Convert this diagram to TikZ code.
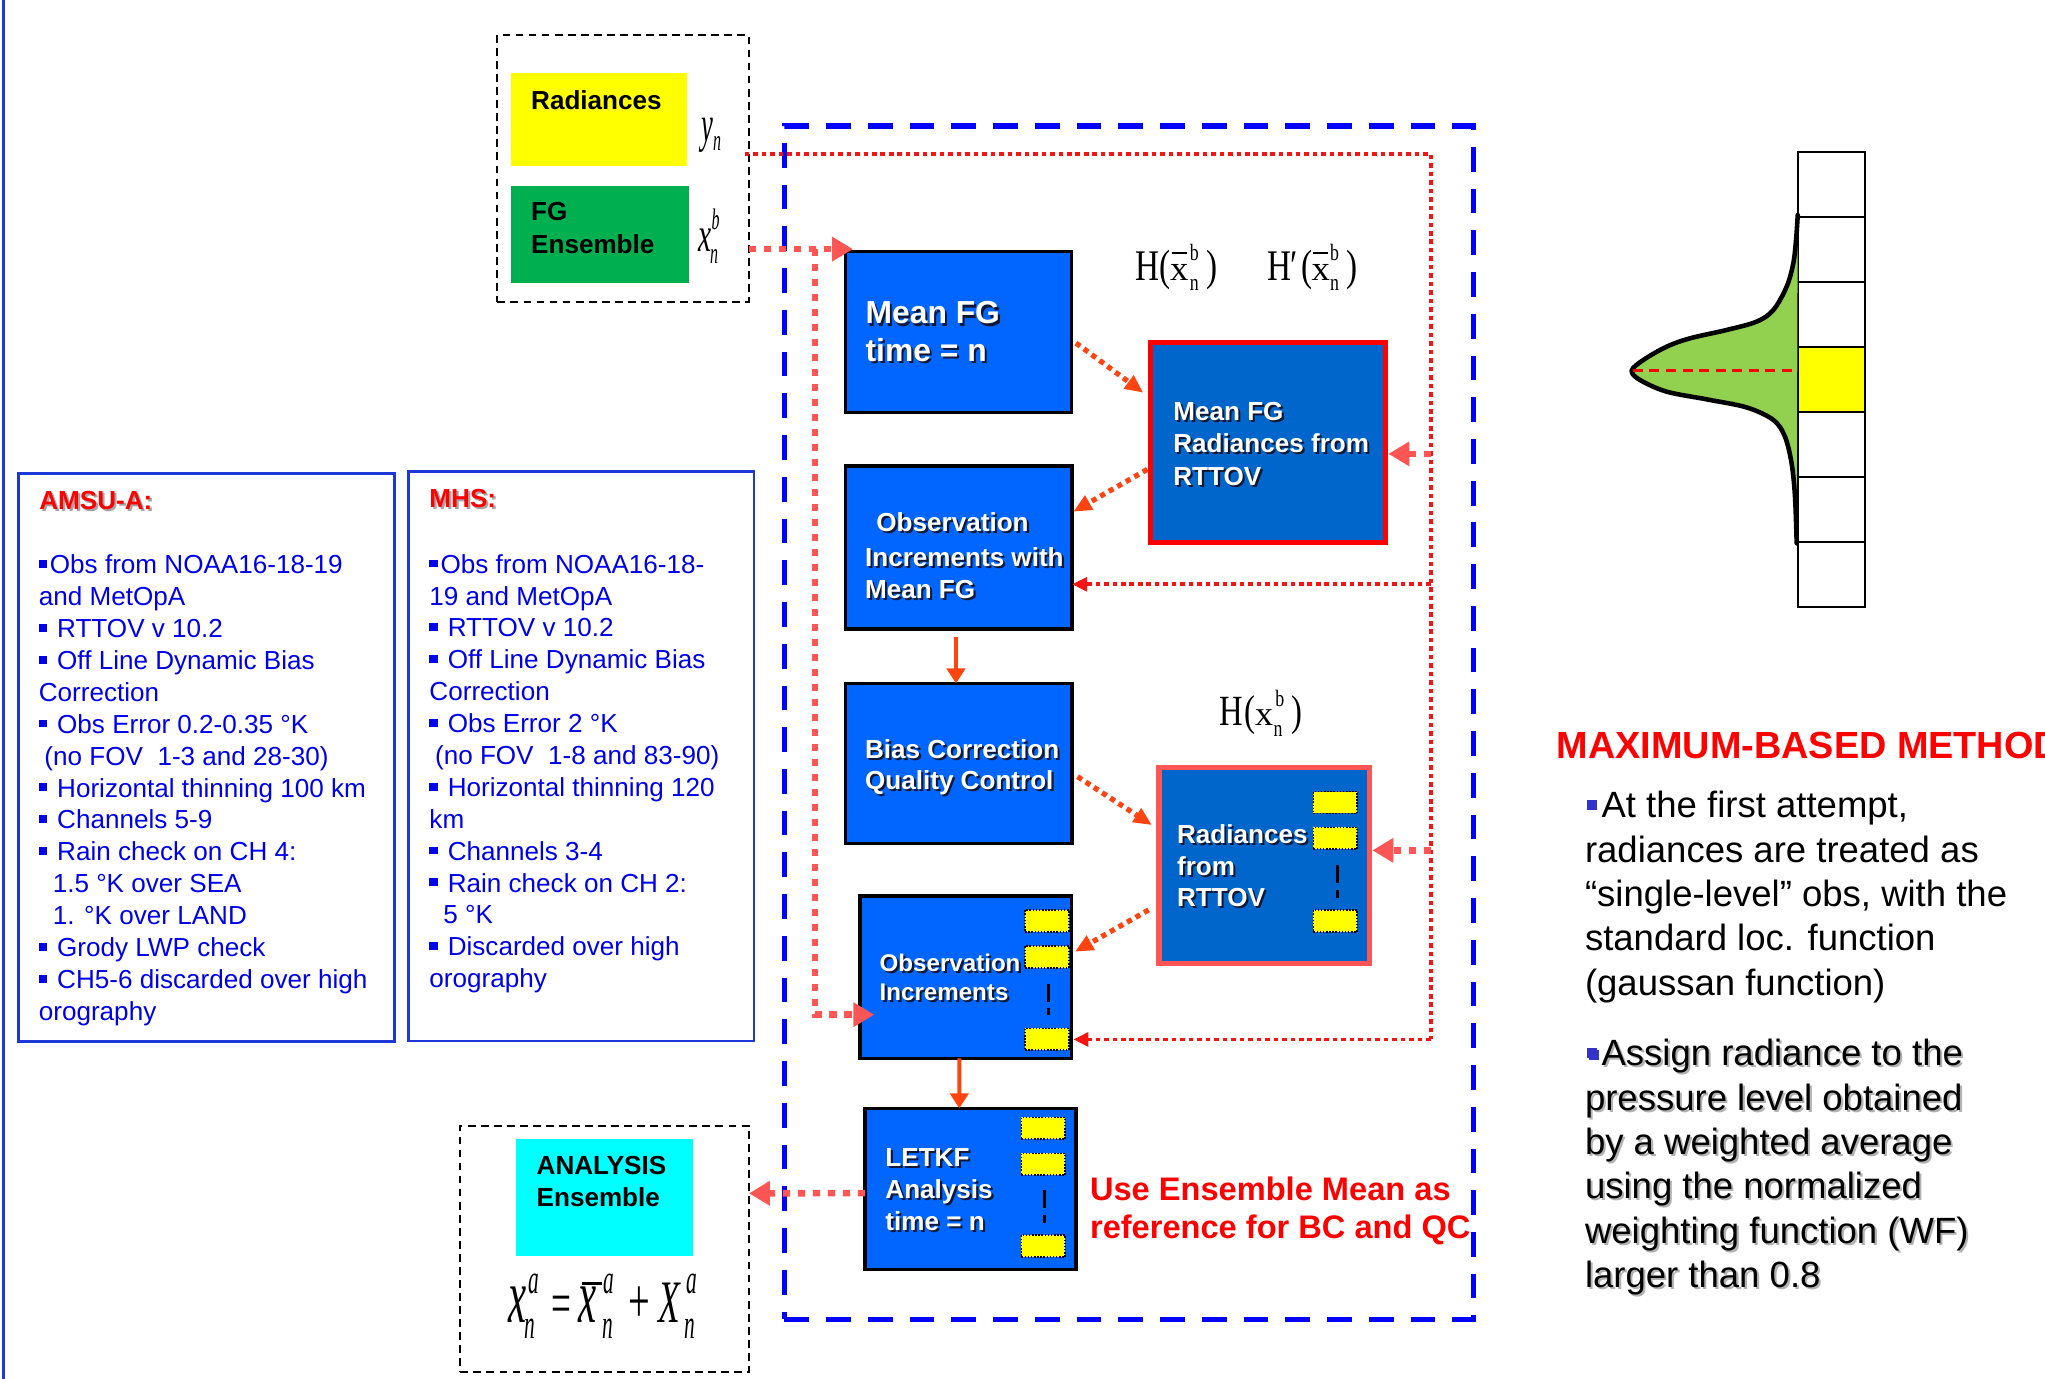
\documentclass[tikz,border=0pt]{standalone}
\usepackage{fontspec}
\setmainfont{Liberation Serif}
\setsansfont{Liberation Sans}
\usepackage{graphicx}
\usetikzlibrary{arrows.meta}
\definecolor{boxblue}{RGB}{0,102,255}
\definecolor{rttblue}{RGB}{0,102,204}
\definecolor{txtblue}{RGB}{0,0,235}
\definecolor{frameblue}{RGB}{30,55,215}
\definecolor{pinkred}{RGB}{255,85,85}
\definecolor{dotred}{RGB}{245,20,20}
\definecolor{arrred}{RGB}{255,68,18}
\definecolor{fggreen}{RGB}{0,176,80}
\definecolor{gaussgreen}{RGB}{146,208,80}
\definecolor{bullblue}{RGB}{51,51,204}
\definecolor{titlered}{RGB}{255,0,0}
\definecolor{shadowc}{RGB}{15,25,55}
\definecolor{cyanc}{RGB}{0,255,255}
\definecolor{yel}{RGB}{255,255,0}
\newcommand\fs[2]{\fontsize{#1}{#2}\selectfont}
\newcommand\bsq{\rule[4.5pt]{6.2pt}{6pt}\hspace{2.3pt}}
\newcommand\rsq{\textcolor{bullblue}{\rule[6pt]{7.7pt}{7.9pt}}\hspace{3.3pt}}
\newcommand\putat[3]{\makebox[0pt][l]{\hspace*{#1}\raisebox{#2}{#3}}}
\newcommand\cnd[1]{\scalebox{0.76}[1]{#1}}
\newcommand\xs{\scalebox{0.84}[0.8]{x}}
\newcommand\eqs[1]{\scalebox{0.8}[1.55]{\fs{20.5}{24}\itshape #1}}
\newcommand\stxt[5]{%
  \node[#1, text=#5] (#2-sh) at ([shift={(1.6,1.6)}]#3) {#4};
  \node[#1] (#2) at (#3) {#4};}
\tikzset{
  every node/.style={inner sep=0pt, outer sep=0pt},
  boxnw/.style={anchor=north west},
  flowbox/.style={boxnw, draw=black, line width=2.5pt, fill=boxblue},
  rttbox/.style={boxnw, line width=4pt, fill=rttblue},
  blackdash/.style={boxnw, draw=black, line width=1.5pt, dash pattern=on 6pt off 4pt},
  infobox/.style={boxnw, draw=frameblue, line width=2pt},
  mini/.style={boxnw, draw=black, line width=1.2pt, dash pattern=on 1.2pt off 1.2pt, fill=yel, minimum width=33.5pt, minimum height=16.7pt},
  minisep/.style={draw=black, line width=2.2pt, dash pattern=on 14pt off 5pt},
  infotxt/.style={anchor=base west, text=txtblue, font=\sffamily\fs{20}{24}},
  infotitle/.style={anchor=base west, text=titlered, font=\sffamily\bfseries\fs{20}{24}},
  wtxt/.style={anchor=base west, text=white, font=\sffamily\bfseries\fs{20}{24}},
  wbig/.style={wtxt, font=\sffamily\bfseries\fs{24.4}{28}},
  wsmall/.style={wtxt, font=\sffamily\bfseries\fs{18.5}{22}},
  ktxt/.style={anchor=base west, text=black, font=\sffamily\bfseries\fs{20}{24}},
  notetxt/.style={anchor=base west, text=titlered, font=\sffamily\bfseries\fs{25}{30}},
  rtxt/.style={anchor=base west, text=black, font=\sffamily\fs{28}{34}},
  mathlbl/.style={anchor=base west, text=black},
  cell/.style={boxnw, draw=black, line width=1.5pt, minimum width=51.5pt, minimum height=49.84pt},
  thindot/.style={draw=dotred, line width=3pt, dash pattern=on 3.5pt off 3pt},
  pinkdot/.style={draw=pinkred, line width=5pt, dash pattern=on 5.5pt off 6pt},
  diagdot/.style={draw=arrred, line width=4pt, dash pattern=on 4pt off 3.5pt},
  thintip/.style={-{Triangle[length=11.5pt,width=10.5pt]}},
  pinktip/.style={-{Triangle[length=16pt,width=18pt]}},
  diagtip/.style={-{Triangle[length=14pt,width=12pt]}},
  solidarr/.style={draw=arrred, line width=3pt, -{Triangle[length=11.5pt,width=14pt]}},
}
\begin{document}
\begin{tikzpicture}[x=1pt,y=-1pt]
\useasboundingbox (0,0) rectangle (1568,1057.2);
\clip (0,0) rectangle (1568,1057.2);
\draw[frameblue, line width=2.2pt] (3,0) -- (3,1057.2);

% ---------- input box ----------
\node[blackdash, minimum width=192.7pt, minimum height=204.5pt] (topdash) at (381.4,26.8) {};
\node[boxnw, fill=yel, minimum width=134.7pt, minimum height=70.8pt] (rad) at (391.7,56.2) {};
\node[boxnw, fill=fggreen, minimum width=136.6pt, minimum height=74.1pt] (fg) at (391.7,142.6) {};
\node[ktxt] (radT) at (407.3,84) {Radiances};
\node[ktxt] (fgT1) at (407.3,168.7) {FG};
\node[ktxt] (fgT2) at (407.3,194.2) {Ensemble};
\node[mathlbl] (yn) at (538,108.6) {%
\putat{0pt}{0pt}{\scalebox{0.68}[1.3]{\fs{30}{32}\itshape y}}%
\putat{8.8pt}{-7pt}{\scalebox{0.7}[1.3]{\fs{17.5}{20}\itshape n}}%
\hspace*{16pt}};
\node[mathlbl] (xnb) at (535.5,193) {%
\putat{0pt}{0pt}{\scalebox{0.78}[1.3]{\fs{29}{32}\itshape x}}%
\putat{10.2pt}{16.8pt}{\scalebox{0.7}[1.3]{\fs{17.5}{20}\itshape b}}%
\putat{9pt}{-8.8pt}{\scalebox{0.7}[1.3]{\fs{17.5}{20}\itshape n}}%
\hspace*{17pt}};

% ---------- big dashed frame ----------
\node[boxnw, draw=blue, line width=4pt, dash pattern=on 19pt off 13pt, minimum width=528pt, minimum height=915pt] (frame) at (601.5,96.6) {};

% ---------- flow boxes ----------
\node[flowbox, minimum width=173pt, minimum height=123pt] (meanfg) at (648.5,193) {};
\node[rttbox, draw=red, minimum width=179.7pt, minimum height=153.4pt] (meanrad) at (882.4,262.6) {};
\node[flowbox, minimum width=174pt, minimum height=125pt] (obsmean) at (648,357.3) {};
\node[flowbox, minimum width=174pt, minimum height=123pt] (bias) at (648,524) {};
\node[rttbox, draw=pinkred, minimum width=161.7pt, minimum height=150.1pt] (radrt) at (888.6,588.6) {};
\node[flowbox, minimum width=162.2pt, minimum height=124.5pt] (obsinc) at (659.3,687) {};
\node[flowbox, minimum width=161.8pt, minimum height=123.5pt] (letkf) at (663.3,849.8) {};

% mini member boxes
\node[mini] (rr1) at (1007.1,607) {};
\node[mini] (rr2) at (1007.1,634.4) {};
\node[mini] (rr3) at (1007.1,697.7) {};
\draw[minisep] ([shift={(1.4,12.1)}]rr2.south) -- ([shift={(1.4,37.7)}]rr2.south);
\node[mini] (oi1) at (786,697.7) {};
\node[mini] (oi2) at (786,725.4) {};
\node[mini] (oi3) at (786,788.5) {};
\draw[minisep] ([shift={(1.5,12)}]oi2.south) -- ([shift={(1.5,36)}]oi2.south);
\node[mini] (lk1) at (783.2,856.7) {};
\node[mini] (lk2) at (783.2,884.3) {};
\node[mini] (lk3) at (783.2,947) {};
\draw[minisep] ([shift={(1,11.5)}]lk2.south) -- ([shift={(1,37)}]lk2.south);

% box texts
\stxt{wbig}{mfT1}{663.7,248.4}{Mean FG}{shadowc}
\stxt{wbig}{mfT2}{663.7,277.3}{time = n}{shadowc}
\stxt{wtxt}{mrT1}{899.7,322.5}{Mean FG}{shadowc}
\stxt{wtxt}{mrT2}{899.7,347.1}{Radiances from}{shadowc}
\stxt{wtxt}{mrT3}{899.7,371.9}{RTTOV}{shadowc}
\stxt{wtxt}{omT1}{672,407.7}{Observation}{shadowc}
\stxt{wtxt}{omT2}{663.3,434.5}{Increments with}{shadowc}
\stxt{wtxt}{omT3}{663.3,458.8}{Mean FG}{shadowc}
\stxt{wtxt}{bcT1}{663.3,581.5}{Bias Correction}{shadowc}
\stxt{wtxt}{bcT2}{663.3,605.5}{Quality Control}{shadowc}
\stxt{wtxt}{rrT1}{902.5,646.5}{Radiances}{shadowc}
\stxt{wtxt}{rrT2}{902.5,671.1}{from}{shadowc}
\stxt{wtxt}{rrT3}{902.5,695.1}{RTTOV}{shadowc}
\stxt{wsmall}{oiT1}{674.5,745}{Observation}{shadowc}
\stxt{wsmall}{oiT2}{674.5,767.3}{Increments}{shadowc}
\stxt{wtxt}{lkT1}{678.9,894.5}{LETKF}{shadowc}
\stxt{wtxt}{lkT2}{678.9,918.8}{Analysis}{shadowc}
\stxt{wtxt}{lkT3}{678.9,943.1}{time = n}{shadowc}

% operator labels
\node[mathlbl] (Hm) at (870.3,215.2) {\fs{33.5}{36}%
\putat{0pt}{0pt}{\cnd{H}}%
\putat{19.1pt}{0pt}{\cnd{(}}%
\putat{26.8pt}{0pt}{\xs}%
\putat{28.1pt}{20.3pt}{\rule{11.5pt}{1.4pt}}%
\putat{42.1pt}{15.8pt}{\cnd{\fs{18}{20}b}}%
\putat{42.1pt}{-7.7pt}{\cnd{\fs{18}{20}n}}%
\putat{54.9pt}{0pt}{\cnd{)}}%
\hspace*{62.6pt}};
\node[mathlbl] (Hp) at (971.7,215.2) {\fs{33.5}{36}%
\putat{0pt}{0pt}{\cnd{H}}%
\putat{17.5pt}{0pt}{\cnd{′}}%
\putat{26.3pt}{0pt}{\cnd{(}}%
\putat{34pt}{0pt}{\xs}%
\putat{35.3pt}{20.3pt}{\rule{11.5pt}{1.4pt}}%
\putat{48.1pt}{15.8pt}{\cnd{\fs{18}{20}b}}%
\putat{48.1pt}{-7.7pt}{\cnd{\fs{18}{20}n}}%
\putat{60.9pt}{0pt}{\cnd{)}}%
\hspace*{68.5pt}};
\node[mathlbl] (Hx) at (935.3,555.9) {\fs{33}{36}%
\putat{0pt}{0pt}{\cnd{H}}%
\putat{19pt}{0pt}{\cnd{(}}%
\putat{27.1pt}{0pt}{\xs}%
\putat{42.5pt}{14pt}{\cnd{\fs{18}{20}b}}%
\putat{41.2pt}{-9pt}{\cnd{\fs{18}{20}n}}%
\putat{55.3pt}{0pt}{\cnd{)}}%
\hspace*{62.3pt}};

% note
\node[notetxt] (note1) at (835.8,920.1) {Use Ensemble Mean as};
\node[notetxt] (note2) at (835.8,949.5) {reference for BC and QC};

% ---------- analysis box ----------
\node[blackdash, minimum width=221.3pt, minimum height=189pt] (anadash) at (353,863) {};
\node[boxnw, fill=cyanc, minimum width=136.3pt, minimum height=89.5pt] (ana) at (395.4,873.3) {};
\node[ktxt] (anaT1) at (411.5,900.2) {ANALYSIS};
\node[ktxt] (anaT2) at (411.5,925.3) {Ensemble};
\node[mathlbl] (eqn) at (389.9,1014) {%
\putat{0pt}{0pt}{\scalebox{0.92}[1.75]{\fs{34}{40}\itshape x}}%
\putat{15.1pt}{22.4pt}{\eqs{a}}%
\putat{12.3pt}{-12.1pt}{\eqs{n}}%
\putat{33.1pt}{-1pt}{\scalebox{1}[1.7]{\fs{27}{30}=}}%
\putat{53.5pt}{0pt}{\scalebox{0.92}[1.75]{\fs{34}{40}\itshape x}}%
\putat{56.6pt}{29pt}{\rule{15.3pt}{1.8pt}}%
\putat{72.7pt}{22.4pt}{\eqs{a}}%
\putat{71.8pt}{-12.1pt}{\eqs{n}}%
\putat{91.9pt}{0pt}{\scalebox{1}[1.64]{\fs{29.5}{32}+}}%
\putat{114.9pt}{0pt}{\scalebox{0.8}[1.36]{\fs{34}{40}\itshape X}}%
\putat{136.6pt}{22.4pt}{\eqs{a}}%
\putat{135.1pt}{-12.1pt}{\eqs{n}}%
\hspace*{146pt}};

% ---------- connectors ----------
\coordinate (c1) at (1097,118);
\coordinate (c2) at (1097,797);
\coordinate (b348) at (1097,348);
\coordinate (b448) at (1097,448);
\coordinate (b652) at (1097,652);
\draw[thindot] ([shift={(-3,91.2)}]topdash.north east) -- (c1) -- (c2);
\draw[thindot, thintip] (c2) -- ([xshift=1.5pt]obsinc.east |- c2);
\draw[thindot, thintip] (b448) -- (obsmean.east |- b448);
\draw[pinkdot, pinktip] (b348) -- ([xshift=2.5pt]meanrad.east |- b348);
\draw[pinkdot, pinktip] (b652) -- ([xshift=2pt]radrt.east |- b652);

\coordinate (fgj) at (625,191);
\coordinate (fgk) at (625,778);
\draw[pinkdot, pinktip] ([shift={(0,164.2)}]topdash.north east) -- (fgj) -- ([shift={(5.5,-2)}]meanfg.north west);
\draw[pinkdot, pinktip] (fgj) -- (fgk) -- ([shift={(11,91)}]obsinc.north west);
\draw[pinkdot, pinktip] ([shift={(0,65)}]letkf.north west) -- ([shift={(0,52)}]anadash.north east);

\draw[diagdot, diagtip] ([shift={(3.5,70)}]meanfg.north east) -- ([shift={(-5.8,38.5)}]meanrad.north west);
\draw[diagdot, diagtip] ([shift={(-2.7,97.3)}]meanrad.north west) -- ([shift={(1,35)}]obsmean.north east);
\draw[diagdot, diagtip] ([shift={(4.2,71.5)}]bias.north east) -- ([shift={(-5.4,44)}]radrt.north west);
\draw[diagdot, diagtip] ([shift={(-7.9,109.1)}]radrt.north west) -- ([shift={(2.7,42.7)}]obsinc.north east);

\draw[solidarr] ([shift={(-2,6)}]obsmean.south) -- ([xshift=-2pt]bias.north);
\draw[solidarr] ([xshift=-4.8pt]obsinc.south) -- ([xshift=-8.7pt]letkf.north);

% ---------- AMSU-A ----------
\node[infobox, minimum width=288.3pt, minimum height=435.7pt] (amsu) at (14,363) {};
\stxt{infotitle}{amsuT}{30.2,390.3}{AMSU-A:}{black!35}
\foreach \t [count=\i from 0] in {%
  {\bsq Obs from NOAA16-18-19},
  {and MetOpA},
  {\bsq\ RTTOV v 10.2},
  {\bsq\ Off Line Dynamic Bias},
  {Correction},
  {\bsq\ Obs Error 0.2-0.35 °K},
  {\hspace{4.3pt}(no FOV\ \ 1-3 and 28-30)},
  {\bsq\ Horizontal thinning 100 km},
  {\bsq\ Channels 5-9},
  {\bsq\ Rain check on CH 4:},
  {\hspace{10.7pt}1.5 °K over SEA},
  {\hspace{10.7pt}1. °K over LAND},
  {\bsq\ Grody LWP check},
  {\bsq\ CH5-6 discarded over high},
  {orography}}
  \node[infotxt] (amsuL\i) at (29.8,440+\i*24.45) {\t};

% ---------- MHS ----------
\node[infobox, minimum width=265.1pt, minimum height=436.7pt] (mhs) at (313,361.5) {};
\stxt{infotitle}{mhsT}{329.3,389.4}{MHS:}{black!35}
\foreach \t [count=\i from 0] in {%
  {\bsq Obs from NOAA16-18-},
  {19 and MetOpA},
  {\bsq\ RTTOV v 10.2},
  {\bsq\ Off Line Dynamic Bias},
  {Correction},
  {\bsq\ Obs Error 2 °K},
  {\hspace{4.3pt}(no FOV\ \ 1-8 and 83-90)},
  {\bsq\ Horizontal thinning 120},
  {km},
  {\bsq\ Channels 3-4},
  {\bsq\ Rain check on CH 2:},
  {\hspace{10.7pt}5 °K},
  {\bsq\ Discarded over high},
  {orography}}
  \node[infotxt] (mhsL\i) at (329.3,439.5+\i*24.45) {\t};

% ---------- level column and weighting function ----------
\foreach \k/\c in {0/white,1/white,2/white,3/yel,4/white,5/white,6/white}
  \node[cell, fill=\c] (cell\k) at (1378.5,116.3+\k*49.84) {};
\fill[gaussgreen] plot[smooth, tension=0.55] coordinates {(1378.4,164.9) (1377.1,184.0) (1375.0,201.9) (1369.9,219.8) (1359.7,237.7) (1346.9,246.6) (1323.9,253.0) (1295.8,259.4) (1277.9,265.8) (1260.0,276.0) (1251.1,284.2) (1257.5,291.4) (1277.9,300.3) (1308.6,306.2) (1339.3,312.4) (1359.7,322.0) (1368.6,334.8) (1373.7,355.3) (1376.3,380.8) (1377.6,416.6)} -- cycle;
\draw[black, line width=3.5pt, line cap=round] plot[smooth, tension=0.55] coordinates {(1378.4,164.9) (1377.1,184.0) (1375.0,201.9) (1369.9,219.8) (1359.7,237.7) (1346.9,246.6) (1323.9,253.0) (1295.8,259.4) (1277.9,265.8) (1260.0,276.0) (1251.1,284.2) (1257.5,291.4) (1277.9,300.3) (1308.6,306.2) (1339.3,312.4) (1359.7,322.0) (1368.6,334.8) (1373.7,355.3) (1376.3,380.8) (1377.6,416.6)};
\coordinate (apex) at (1252,284.2);
\draw[red, line width=2.2pt, dash pattern=on 7.7pt off 5pt] (apex) -- (cell3.west |- apex);

% ---------- method text ----------
\node[anchor=base west, text=titlered, font=\sffamily\bfseries\fs{29}{34}] (mtitle) at (1193.6,581.6) {MAXIMUM-BASED METHOD};
\node[rtxt] (p1L0) at (1217,627) {\rsq At the first attempt,};
\foreach \t [count=\i from 1] in {%
  {radiances are treated as},
  {“single-level” obs, with the},
  {standard loc. function},
  {(gaussan function)}}
  \node[rtxt] (p1L\i) at (1215.3,627+\i*34) {\t};
\stxt{rtxt}{p2L0}{1217,817.2}{\rsq Assign radiance to the}{black!30}
\foreach \t [count=\i from 1] in {%
  {pressure level obtained},
  {by a weighted average},
  {using the normalized},
  {weighting function (WF)},
  {larger than 0.8}}
  {\stxt{rtxt}{p2L\i}{1215.3,817.2+\i*34}{\t}{black!30}}
\end{tikzpicture}
\end{document}
